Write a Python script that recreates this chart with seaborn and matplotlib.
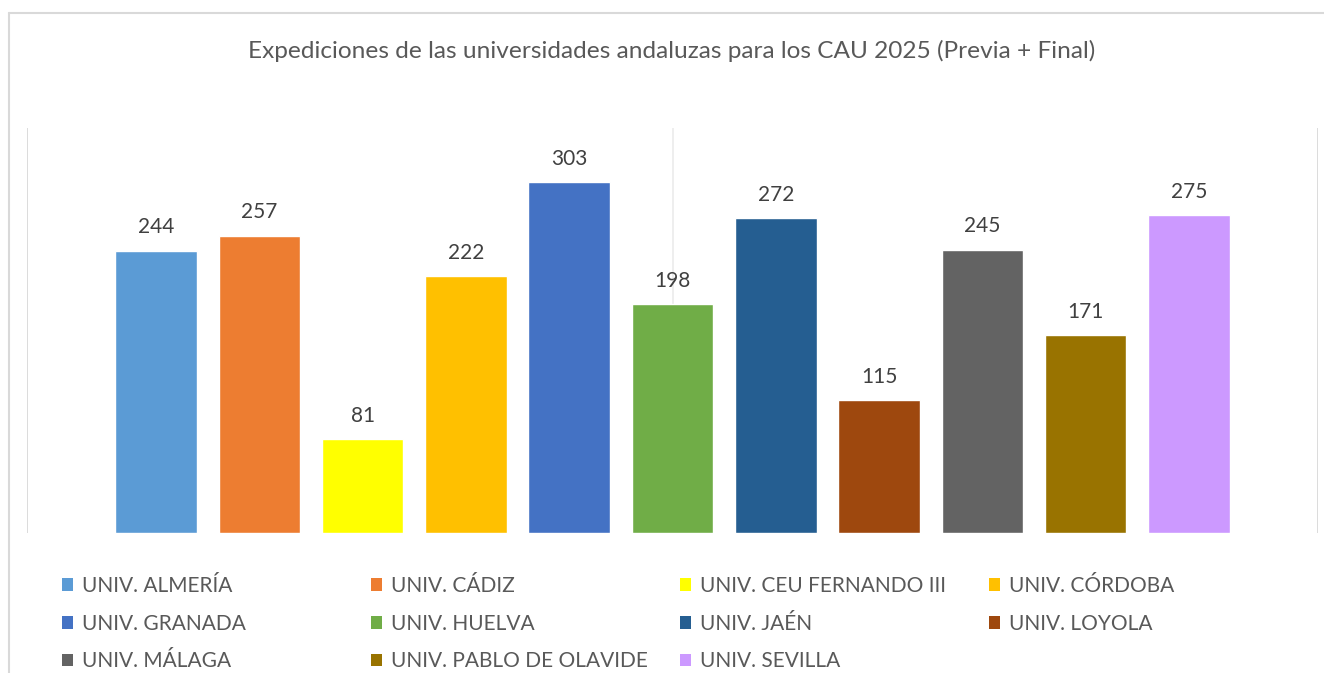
import matplotlib
matplotlib.use("Agg")
import matplotlib.pyplot as plt
from matplotlib.patches import Patch
from matplotlib.lines import Line2D
import seaborn as sns
import pandas as pd

universidades = ["UNIV. ALMERÍA", "UNIV. CÁDIZ", "UNIV. CEU FERNANDO III", "UNIV. CÓRDOBA",
                 "UNIV. GRANADA", "UNIV. HUELVA", "UNIV. JAÉN", "UNIV. LOYOLA",
                 "UNIV. MÁLAGA", "UNIV. PABLO DE OLAVIDE", "UNIV. SEVILLA"]
expediciones = [244, 257, 81, 222, 303, 198, 272, 115, 245, 171, 275]
colores = ["#5B9BD5", "#ED7D31", "#FFFF00", "#FFC000", "#4472C4", "#70AD47",
           "#255E91", "#9E480E", "#636363", "#997300", "#CC99FF"]
titulo = "Expediciones de las universidades andaluzas para los CAU 2025 (Previa + Final)"

sns.set_style("white")
plt.rcParams["font.family"] = ["Lato", "DejaVu Sans"]

df = pd.DataFrame({"univ": universidades, "n": expediciones})

W, H = 1324, 673
fig = plt.figure(figsize=(W / 100, H / 100), dpi=100)
ax = fig.add_axes([27 / W, 1 - 533 / H, (1318 - 27) / W, (533 - 128) / H])

sns.barplot(data=df, x="univ", y="n", hue="univ", palette=colores, width=0.79,
            legend=False, ax=ax, saturation=1, zorder=3)

for c in ax.containers:
    ax.bar_label(c, padding=9.5, fontsize=15, color="#404040")

ax.set_xlim(-1.25, 11.25)
ax.set_ylim(0, 350)
for x, col in [(-1.25, "#d9d9d9"), (5, "#ededed"), (11.25, "#d9d9d9")]:
    ax.axvline(x, color=col, lw=1.3, zorder=0)
for s in ax.spines.values():
    s.set_visible(False)
ax.set_xticks([])
ax.set_yticks([])
ax.set_xlabel("")
ax.set_ylabel("")

# outer chart frame
fig.add_artist(Line2D([9 / W, 1], [1 - 13 / H, 1 - 13 / H], color="#d9d9d9", lw=1.5))
fig.add_artist(Line2D([9 / W, 9 / W], [0, 1 - 13 / H], color="#d9d9d9", lw=1.5))

fig.text(672 / W, 1 - 51 / H, titulo, ha="center", va="center", fontsize=17.6, color="#595959")

handles = [Patch(facecolor=c, edgecolor="none") for c in colores]
col_x = [62, 371, 680, 989]
for j, x in enumerate(col_x):
    idx = list(range(j, len(universidades), 4))
    fig.legend([handles[i] for i in idx], [universidades[i] for i in idx],
               loc="upper left", bbox_to_anchor=(x / W, 1 - 576 / H), frameon=False,
               borderpad=0, borderaxespad=0, handlelength=0.55, handleheight=0.55,
               handletextpad=0.4, labelspacing=0.85, fontsize=15, labelcolor="#595959")

fig.savefig("out.png", dpi=100)
